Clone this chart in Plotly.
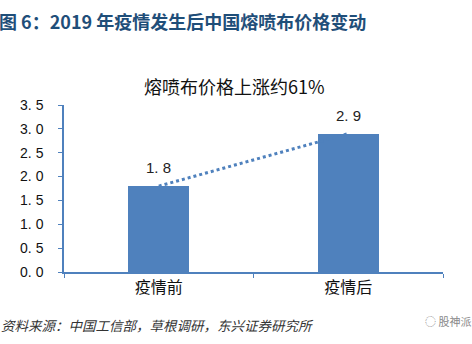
import plotly.graph_objects as go

categories = ["疫情前", "疫情后"]
values = [1.8, 2.9]
tick_vals = [0, 0.5, 1.0, 1.5, 2.0, 2.5, 3.0, 3.5]
tick_text = ["0. 0", "0. 5", "1. 0", "1. 5", "2. 0", "2. 5", "3. 0", "3. 5"]
value_labels = ["1. 8", "2. 9"]

BLUE = "#4F81BD"
FONT = "Liberation Sans, Noto Sans CJK SC, sans-serif"
CJK = "Noto Sans CJK SC, sans-serif"

fig = go.Figure()
fig.add_trace(go.Bar(x=categories, y=values, width=0.32, marker=dict(color=BLUE, line=dict(width=0)),
                     hoverinfo="skip"))
fig.add_trace(go.Scatter(x=categories, y=values, mode="lines",
                         line=dict(color=BLUE, width=3, dash="dot"), hoverinfo="skip"))

for c, v, t in zip(categories, values, value_labels):
    fig.add_annotation(x=c, y=v, text=t, showarrow=False, yanchor="bottom", yshift=8,
                       font=dict(family=FONT, size=15, color="#222222"))

# chart title
fig.add_annotation(xref="paper", yref="paper", x=0.449, y=1.0, yshift=19, yanchor="middle",
                   text="熔喷布价格上涨约61%", showarrow=False,
                   font=dict(family=CJK, size=18, color="#111111"))
# header
fig.add_annotation(xref="paper", yref="paper", x=-0.177, xanchor="left", y=1.0, yanchor="middle",
                   yshift=84, text="<b>图 6：2019 年疫情发生后中国熔喷布价格变动</b>", showarrow=False,
                   font=dict(family=CJK, size=18, color="#1F4E79"))
# footer
fig.add_annotation(xref="paper", yref="paper", x=-0.172, xanchor="left", y=0, yanchor="middle",
                   yshift=-53, text="<i>资料来源：中国工信部，草根调研，东兴证券研究所</i>", showarrow=False,
                   font=dict(family=CJK, size=13.5, color="#333333"))
fig.add_annotation(xref="paper", yref="paper", x=1.08, xanchor="right", y=0, yanchor="middle",
                   yshift=-49, text="◌ 股神派", showarrow=False,
                   font=dict(family=CJK, size=11, color="#888888"))

fig.update_layout(
    width=472, height=344,
    margin=dict(l=64, r=29, t=105, b=72),
    paper_bgcolor="white", plot_bgcolor="white",
    showlegend=False,
    bargap=0,
    xaxis=dict(type="category", showline=True, linecolor=BLUE, linewidth=1.5,
               ticks="outside", tickson="boundaries", ticklen=4, tickcolor=BLUE,
               tickfont=dict(family=CJK, size=16, color="#111111"), showgrid=False,
               range=[-0.5, 1.5]),
    yaxis=dict(range=[0, 3.5], tickvals=tick_vals, ticktext=tick_text, showline=True,
               linecolor=BLUE, linewidth=1.5, ticks="outside", ticklen=4, tickcolor=BLUE,
               tickfont=dict(family=FONT, size=14, color="#111111"), showgrid=False,
               zeroline=False, ticklabelstandoff=12),
)

fig.write_html("out.html")
